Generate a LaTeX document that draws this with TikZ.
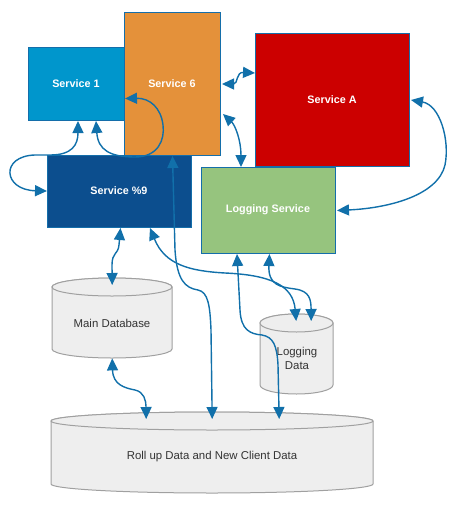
\documentclass[tikz,border=0pt]{standalone}
\usepackage{fontspec}
\setmainfont{Liberation Sans}
\usetikzlibrary{arrows.meta,calc}
\definecolor{sonecol}{RGB}{0,150,204}
\definecolor{ssixcol}{RGB}{228,145,58}
\definecolor{sninecol}{RGB}{12,78,142}
\definecolor{sacol}{RGB}{204,0,0}
\definecolor{logcol}{RGB}{150,196,126}
\definecolor{edgecol}{RGB}{20,110,170}
\definecolor{arrcol}{RGB}{17,112,170}
\definecolor{dbfill}{RGB}{238,238,238}
\definecolor{dbline}{RGB}{160,160,160}
\definecolor{dbtext}{RGB}{51,51,51}
\tikzset{
  svc/.style={draw=edgecol, line width=1pt, anchor=north west, inner sep=0pt},
  svctext/.style={text=white, font=\fontsize{10.8}{13}\selectfont\bfseries, inner sep=0pt},
  dbshape/.style={fill=dbfill, draw=dbline, line width=1pt},
  dbbox/.style={anchor=north west, inner sep=0pt},
  dblabel/.style={text=dbtext, font=\fontsize{11.4}{14}\selectfont, align=center, inner sep=0pt},
  link/.style={draw=arrcol, line width=1.4pt,
    {Triangle[length=12pt,width=11pt]}-{Triangle[length=12pt,width=11pt]}}
}
\begin{document}
\begin{tikzpicture}[x=1pt,y=-1pt]
\useasboundingbox (0,0) rectangle (471,512);
% boxes
\node[svc, fill=sonecol, minimum width=96pt, minimum height=73pt] (s1) at (28,47) {};
\node[svctext] (s1t) at (76,84) {Service 1};
\node[svc, fill=ssixcol, minimum width=96pt, minimum height=143pt] (s6) at (124,12) {};
\node[svctext] (s6t) at (172,84) {Service 6};
\node[svc, fill=sninecol, minimum width=144pt, minimum height=72pt] (s9) at (47,155) {};
\node[svctext] (s9t) at (119,191) {Service \%9};
\node[svc, fill=sacol, minimum width=154pt, minimum height=133pt] (sA) at (255,33) {};
\node[svctext] (sAt) at (332,100) {Service A};
\node[svc, fill=logcol, minimum width=134pt, minimum height=86pt] (log) at (201,167) {};
\node[svctext] (logt) at (268,210) {Logging Service};
% cylinders
\filldraw[dbshape] (52,287) -- (52,349) arc[start angle=180,end angle=360,x radius=60pt,y radius=9pt] -- (172,287) arc[start angle=0,end angle=180,x radius=60pt,y radius=9pt] -- cycle;
\draw[dbshape] (112,287) ellipse[x radius=60pt,y radius=9pt];
\node[dbbox, minimum width=120pt, minimum height=80pt] (mdb) at (52,278) {};
\node[dblabel] (mdbt) at (112,323) {Main Database};

\filldraw[dbshape] (260,323) -- (260,385) arc[start angle=180,end angle=360,x radius=36.5pt,y radius=9pt] -- (333,323) arc[start angle=0,end angle=180,x radius=36.5pt,y radius=9pt] -- cycle;
\draw[dbshape] (296.5,323) ellipse[x radius=36.5pt,y radius=9pt];
\node[dbbox, minimum width=73pt, minimum height=80pt] (ldb) at (260,314) {};
\node[dblabel] (ldbt) at (297,358) {Logging\\Data};

\filldraw[dbshape] (51,421) -- (51,484) arc[start angle=180,end angle=360,x radius=161pt,y radius=9pt] -- (373,421) arc[start angle=0,end angle=180,x radius=161pt,y radius=9pt] -- cycle;
\draw[dbshape] (212,421) ellipse[x radius=161pt,y radius=9pt];
\node[dbbox, minimum width=322pt, minimum height=81pt] (roll) at (51,412) {};
\node[dblabel] (rollt) at (212,457) {Roll up Data and New Client Data};

% connectors
\draw[link] ($(s1.south west)+(50,0)$) .. controls (78,145) and (72,155) .. (50,155) -- (35,155) .. controls (0,156) and (3,190) .. ($(s9.north west)+(0,36)$);
\draw[link] ($(s1.south west)+(68,0)$) .. controls (98,150) and (110,157) .. (135,157) .. controls (158,157) and (165,140) .. (163,125) .. controls (161,108) and (150,98) .. ($(s1.east)+(0,14.5)$);
\draw[link] ($(s6.east)+(1,0)$) .. controls (238,84) and (236,72) .. ($(sA.west)+(0,-27)$);
\draw[link] ($(s6.east)+(2,30)$) .. controls (235,125) and (241,140) .. ($(log.north west)+(40,0)$);
\draw[link] ($(sA.east)+(1,0)$) .. controls (440,105) and (450,140) .. (445,165) .. controls (438,195) and (390,208) .. ($(log.east)+(1,0)$);
\draw[link] ($(s9.south)+(1,0)$) -- (119,245) .. controls (118,255) and (112,252) .. (112,265) -- ($(mdb.north)+(0,7)$);
\draw[link] ($(s9.south west)+(103,0)$) .. controls (165,265) and (190,271) .. (225,273) .. controls (270,275) and (293,285) .. ($(ldb.north)+(-0.5,7)$);
\draw[link] ($(log.south)+(1,0)$) .. controls (268,285) and (280,287) .. (295,289) .. controls (310,291) and (311,300) .. ($(ldb.north)+(14.5,7)$);
\draw[link] (s6.south) -- (175,250) .. controls (177,280) and (185,288) .. (198,290) .. controls (208,292) and (210,305) .. (211,330) -- ($(roll.north)+(0,7)$);
\draw[link] ($(log.south west)+(36,0)$) -- (240,310) .. controls (241,330) and (250,334) .. (262,335) .. controls (273,337) and (277,345) .. (278,365) -- ($(roll.north)+(67,7)$);
\draw[link] (mdb.south) .. controls (113,385) and (125,388) .. (135,390) .. controls (144,392) and (146,400) .. ($(roll.north)+(-66,7)$);
\end{tikzpicture}
\end{document}
